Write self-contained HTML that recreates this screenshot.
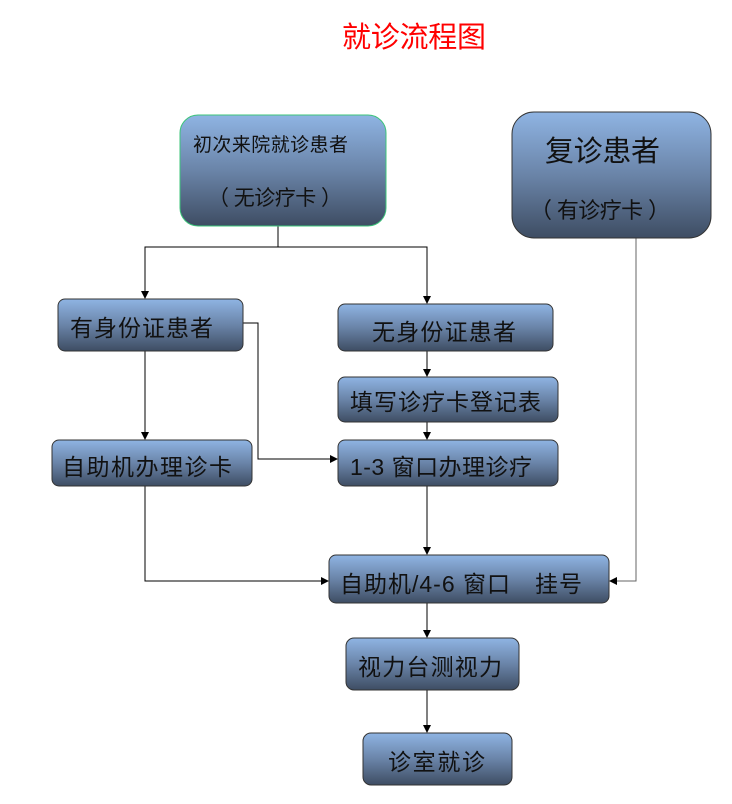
<!DOCTYPE html>
<html><head><meta charset="utf-8"><style>
html,body{margin:0;padding:0;background:#fff;}
svg text{font-family:"Liberation Sans","Noto Sans CJK SC",sans-serif;fill:#111;}
</style></head><body>
<svg width="732" height="799" viewBox="0 0 732 799" xmlns="http://www.w3.org/2000/svg">
<defs>
<linearGradient id="g" x1="0" y1="0" x2="0" y2="1">
<stop offset="0" stop-color="#8fb4e3"/><stop offset="0.5" stop-color="#6a84a8"/><stop offset="1" stop-color="#3e4d63"/>
</linearGradient>
<marker id="a" markerWidth="8" markerHeight="8" refX="7" refY="4" orient="auto" markerUnits="userSpaceOnUse">
<path d="M0,0 L8,4 L0,8 z" fill="#000"/></marker>
</defs>
<text x="342" y="47" font-size="29" textLength="144" style="fill:#ff0000">就诊流程图</text>

<g fill="none" stroke="#000" stroke-width="1">
<path d="M278,226 V247 H145 V298" marker-end="url(#a)"/>
<path d="M278,247 H427 V303" marker-end="url(#a)"/>
<path d="M243,323 H258 V459 H337" marker-end="url(#a)"/>
<path d="M145,351 V439" marker-end="url(#a)"/>
<path d="M427,351 V376" marker-end="url(#a)"/>
<path d="M427,422 V439" marker-end="url(#a)"/>
<path d="M427,486 V554" marker-end="url(#a)"/>
<path d="M145,486 V581 H328" marker-end="url(#a)"/>
<path d="M636,238 V581 H610" stroke="#666" marker-end="url(#a)"/>
<path d="M427,603 V637" marker-end="url(#a)"/>
<path d="M427,690 V732" marker-end="url(#a)"/>
</g>

<g stroke="#333" stroke-width="1" fill="url(#g)">
<rect x="180" y="115" width="206" height="111" rx="18" stroke="#3cc47a"/>
<rect x="512" y="112" width="199" height="126" rx="22"/>
<rect x="58" y="299" width="185" height="52" rx="7"/>
<rect x="338" y="304" width="215" height="47" rx="7"/>
<rect x="338" y="377" width="220" height="45" rx="7"/>
<rect x="338" y="440" width="220" height="46" rx="7"/>
<rect x="52" y="440" width="200" height="46" rx="7"/>
<rect x="329" y="555" width="280" height="48" rx="7"/>
<rect x="346" y="638" width="173" height="52" rx="8"/>
<rect x="363" y="733" width="149" height="52" rx="8"/>
</g>

<text x="193" y="151" font-size="19" textLength="155">初次来院就诊患者</text>
<text x="208" y="205" font-size="21" textLength="134">（ 无诊疗卡 ）</text>
<text x="545" y="161" font-size="29" textLength="115">复诊患者</text>
<text x="530" y="218" font-size="22" textLength="140">（ 有诊疗卡 ）</text>
<text x="70" y="336" font-size="23" textLength="143">有身份证患者</text>
<text x="372" y="340" font-size="23" textLength="144">无身份证患者</text>
<text x="350" y="410" font-size="23" textLength="191">填写诊疗卡登记表</text>
<text x="350" y="475" font-size="23" textLength="182">1-3 窗口办理诊疗</text>
<text x="62" y="475" font-size="23" textLength="170">自助机办理诊卡</text>
<text x="340" y="592" font-size="23" textLength="242">自助机/4-6 窗口　挂号</text>
<text x="358" y="675" font-size="23" textLength="144">视力台测视力</text>
<text x="388" y="770" font-size="23" textLength="97">诊室就诊</text>
</svg>
</body></html>
